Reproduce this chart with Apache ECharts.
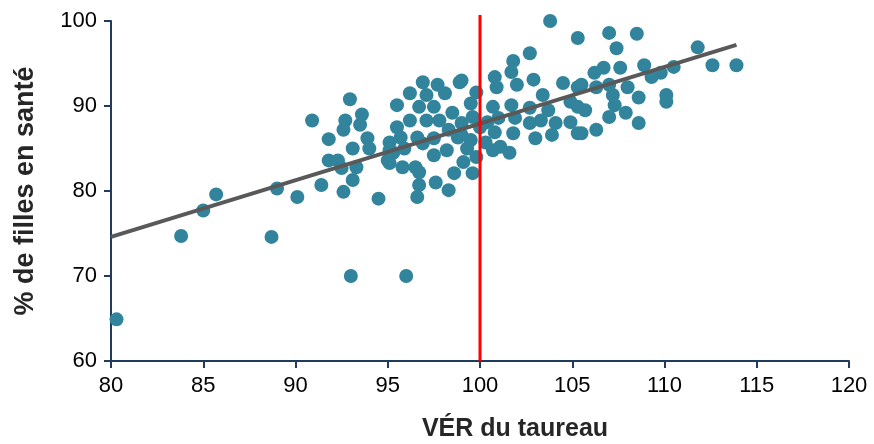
<!DOCTYPE html>
<html>
<head>
<meta charset="utf-8">
<script src="https://cdn.jsdelivr.net/npm/echarts@6/dist/echarts.min.js"></script>
<style>
  html, body { margin: 0; padding: 0; background: #fff; }
  #chart { width: 874px; height: 444px; }
</style>
</head>
<body>
<div id="chart"></div>
<script>
// VÉR du taureau (x) vs % de filles en santé (y)
const xValues = [
  80.3, 83.8, 85.0, 85.7, 88.7, 89.0, 90.1, 93.0, 96.0, 90.9, 91.4, 94.5, 92.95,
  92.7, 93.6, 93.5, 92.6, 91.8, 93.9, 95.5, 93.1, 94.0, 95.1, 91.8, 92.3, 92.5,
  93.3, 95.0, 93.1, 92.6, 95.3, 95.8,
  96.9, 97.7, 98.9, 96.2, 95.5, 97.1, 98.1, 99.8, 96.7, 97.5, 98.5, 99.5, 99.6,
  96.2, 97.1, 97.8, 98.3, 99.0, 95.7, 96.6, 97.5, 98.8, 99.5, 95.1, 95.9, 96.9,
  97.5, 98.2, 99.3, 99.8, 95.1, 96.5, 96.7, 98.6, 99.1, 99.6, 96.7, 97.6, 98.3,
  96.6, 99.0,
  103.8, 105.3, 102.7, 101.8, 101.7, 100.8, 99.0, 100.9, 102.0, 102.9, 103.4,
  104.5, 105.3, 100.7, 101.7, 102.7, 103.7, 104.9, 100.4, 101.0, 101.9, 102.7,
  103.3, 104.1, 104.9, 100.8, 101.8, 103.0, 103.9, 105.3, 100.3, 101.1, 101.6,
  100.0, 100.7,
  107.0, 108.5, 107.4, 106.7, 106.2, 107.6, 108.9, 109.3, 105.5, 106.3, 107.0,
  108.0, 108.6, 107.2, 107.3, 105.3, 105.7, 107.0, 107.9, 108.6, 105.5, 106.3,
  110.1, 110.1, 111.8, 110.5, 112.6, 113.9, 109.8
];
const yValues = [
  64.9, 74.7, 77.7, 79.6, 74.6, 80.3, 79.3, 70.0, 70.0, 88.3, 80.7, 79.1, 90.8,
  88.3, 89.0, 87.8, 87.2, 86.1, 86.2, 87.5, 85.0, 85.0, 85.7, 83.6, 83.6, 82.7,
  82.8, 83.6, 81.3, 79.9, 84.5, 82.8,
  92.8, 92.5, 92.8, 91.5, 90.1, 91.3, 91.5, 91.6, 89.9, 89.9, 89.2, 90.3, 88.7,
  88.3, 88.3, 88.3, 87.2, 88.0, 86.3, 86.3, 86.2, 86.3, 86.0, 84.8, 85.0, 85.6,
  84.2, 84.8, 85.0, 84.0, 83.3, 82.8, 82.2, 82.1, 83.4, 82.1, 80.7, 81.0, 80.1,
  79.3, 86.6,
  100.0, 98.0, 96.2, 95.3, 94.0, 93.4, 93.0, 92.2, 92.5, 93.1, 91.3,
  92.7, 92.2, 89.9, 90.1, 89.8, 89.5, 90.5, 88.1, 88.6, 88.6, 88.0,
  88.3, 88.0, 88.1, 86.9, 86.8, 86.2, 86.6, 86.8, 85.7, 85.2, 84.5,
  87.5, 84.8,
  98.6, 98.5, 96.8, 94.5, 93.9, 94.5, 94.8, 93.4, 92.5, 92.2, 92.5,
  92.2, 91.0, 91.3, 90.1, 89.9, 89.5, 88.7, 89.2, 88.0, 86.8, 87.2,
  91.3, 90.5, 96.9, 94.6, 94.8, 94.8, 93.9
];
// trend line end points and the reference VÉR = 100
const trendX = [80, 113.9];
const trendY = [74.6, 97.2];
const refX = 100;
const refY = [60, 100.7];

const xTicks = { min: 80, max: 120, interval: 5 };
const yTicks = { min: 60, max: 100, interval: 10 };

const axisColor = '#1f3b5f';
const fontFamily = '"Liberation Sans", Arial, sans-serif';

const chart = echarts.init(document.getElementById('chart'));

const option = {
  animation: false,
  grid: { left: 111, right: 25, top: 21, bottom: 83, outerBoundsMode: 'none' },
  xAxis: {
    type: 'value',
    min: xTicks.min,
    max: xTicks.max,
    interval: xTicks.interval,
    name: 'VÉR du taureau',
    nameLocation: 'middle',
    nameGap: 56,
    nameTextStyle: {
      fontFamily, fontSize: 25, fontWeight: 'bold', color: '#262626',
      padding: [0, 0, 0, 70]
    },
    axisLine: { lineStyle: { color: axisColor, width: 2 } },
    axisTick: { show: true, length: 7, lineStyle: { color: axisColor, width: 2 } },
    axisLabel: { fontFamily, fontSize: 22, color: '#000', margin: 14 },
    splitLine: { show: false }
  },
  yAxis: {
    type: 'value',
    min: yTicks.min,
    max: yTicks.max,
    interval: yTicks.interval,
    name: '% de filles en santé',
    nameLocation: 'middle',
    nameGap: 72,
    nameTextStyle: { fontFamily, fontSize: 27, fontWeight: 'bold', color: '#262626' },
    axisLine: { show: true, lineStyle: { color: axisColor, width: 2 } },
    axisTick: { show: true, length: 7, lineStyle: { color: axisColor, width: 2 } },
    axisLabel: { fontFamily, fontSize: 22, color: '#000', margin: 14 },
    splitLine: { show: false }
  },
  series: [
    {
      type: 'scatter',
      data: xValues.map((x, i) => [x, yValues[i]]),
      symbolSize: 14,
      clip: false,
      itemStyle: { color: '#31849b', opacity: 1 },
      z: 2
    },
    {
      type: 'line',
      data: trendX.map((x, i) => [x, trendY[i]]),
      symbol: 'none',
      lineStyle: { color: '#595959', width: 4 },
      z: 3
    },
    {
      type: 'line',
      data: refY.map(y => [refX, y]),
      symbol: 'none',
      clip: false,
      lineStyle: { color: '#ff0000', width: 3 },
      z: 4
    }
  ]
};

chart.setOption(option);
</script>
</body>
</html>
